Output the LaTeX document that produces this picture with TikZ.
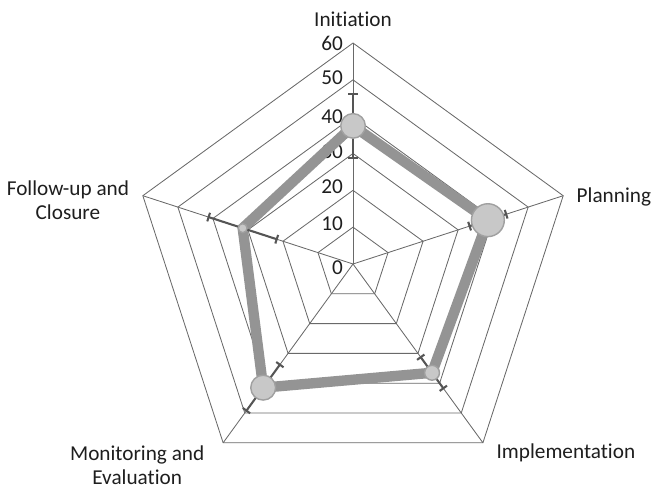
\documentclass[tikz,border=0pt]{standalone}
\usepackage{fontspec}
\setmainfont{Carlito}[Ligatures=NoCommon]
\usepackage{xcolor}
\definecolor{gridcol}{RGB}{105,105,105}
\definecolor{linecol}{RGB}{148,148,148}
\definecolor{markcol}{RGB}{200,200,200}
\definecolor{markedge}{RGB}{160,160,160}
\definecolor{errcol}{RGB}{85,85,85}
\definecolor{textcol}{RGB}{30,30,30}
\usetikzlibrary{arrows.meta}

\begin{document}
\begin{tikzpicture}[
    grid/.style={draw=gridcol, line width=0.65pt},
    errbar/.style={errcol, line width=1.6pt, {Bar[width=7pt]}-{Bar[width=7pt]}},
    marker/.style={circle, fill=markcol, draw=markedge, line width=1.1pt, inner sep=0pt},
    lab/.style={text=textcol, font=\fontsize{16.4}{18.5}\selectfont, align=center}
]
    \useasboundingbox (-9.585,-6.082) rectangle (8.145,7.168);

    % Draw the pentagon grid
    \draw[grid] (90:1) -- (18:1) -- (-54:1) -- (-126:1) -- (162:1) -- cycle;
    \draw[grid] (90:2) -- (18:2) -- (-54:2) -- (-126:2) -- (162:2) -- cycle;
    \draw[grid] (90:3) -- (18:3) -- (-54:3) -- (-126:3) -- (162:3) -- cycle;
    \draw[grid] (90:4) -- (18:4) -- (-54:4) -- (-126:4) -- (162:4) -- cycle;
    \draw[grid] (90:5) -- (18:5) -- (-54:5) -- (-126:5) -- (162:5) -- cycle;
    \draw[grid] (90:6) -- (18:6) -- (-54:6) -- (-126:6) -- (162:6) -- cycle;

    % Spokes
    \coordinate (o) at (0,0);
    \draw[grid] (o) -- (90:6);
    \draw[grid] (o) -- (18:6);
    \draw[grid] (o) -- (-54:6);
    \draw[grid] (o) -- (-126:6);
    \draw[grid] (o) -- (162:6);

    % Scale labels
    \node[lab, anchor=east] (t0) at (-0.15,-0.1) {0};
    \node[lab, anchor=east] (t10) at (-0.15,1.1) {10};
    \node[lab, anchor=east] (t20) at (-0.15,2.1) {20};
    \node[lab, anchor=east] (t30) at (-0.15,3.05) {30};
    \node[lab, anchor=east] (t40) at (-0.15,4) {40};
    \node[lab, anchor=east] (t50) at (-0.15,5.05) {50};
    \node[lab, anchor=east] (t60) at (-0.15,6) {60};

    % Category labels
    \node[lab] (init) at (0,6.65) {Initiation};
    \node[lab, anchor=west] (plan) at (5.95,1.82) {Planning};
    \node[lab] (impl) at (5.78,-5.12) {Implementation};
    \node[lab] (moni) at (-5.86,-5.46) {Monitoring and\\Evaluation};
    \node[lab] (foll) at (-7.74,1.74) {Follow-up and\\Closure};

    % Mean values
    \coordinate (pinit) at (90:3.75);
    \coordinate (pplan) at (18:3.85);
    \coordinate (pimpl) at (-54:3.65);
    \coordinate (pmoni) at (-126:4.15);
    \coordinate (pfoll) at (162:3.15);

    \draw[linecol, line width=8pt, line join=round]
        (pinit) -- (pplan) -- (pimpl) -- (pmoni) -- (pfoll) -- cycle;

    % Error bars
    \draw[errbar] (90:2.85) -- (90:4.65);
    \draw[errbar] (18:3.3) -- (18:4.4);
    \draw[errbar] (-54:3.1) -- (-54:4.2);
    \draw[errbar] (-126:3.35) -- (-126:4.95);
    \draw[errbar] (162:2.15) -- (162:4.15);

    % Markers
    \node[marker, minimum size=19pt] (minit) at (pinit) {};
    \node[marker, minimum size=25.4pt] (mplan) at (pplan) {};
    \node[marker, minimum size=11.5pt] (mimpl) at (pimpl) {};
    \node[marker, minimum size=19.2pt] (mmoni) at (pmoni) {};
    \node[marker, minimum size=6.9pt] (mfoll) at (pfoll) {};

\end{tikzpicture}
\end{document}
